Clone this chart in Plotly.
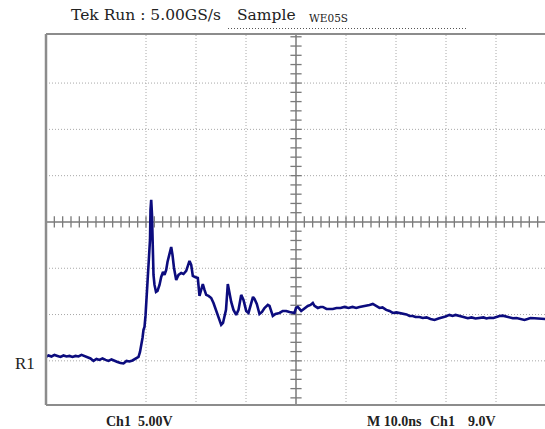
import plotly.graph_objects as go

# ---- data (time in ns from left edge, volts relative to screen centre)
time_ns = [0, 0.5, 1.1, 1.7, 2.3, 2.9, 3.5, 4.1, 4.7, 5.3, 5.9, 6.5, 7.1, 7.7, 8.3, 8.9, 9.5,
           10.1, 10.7, 11.3, 11.9, 12.5, 13.1, 13.7, 14.3, 14.9, 15.5, 16.1, 16.7, 17.3, 17.9,
           18.5, 18.8, 19.1, 19.3, 19.5, 19.7, 19.9, 20.1, 20.3, 20.6, 20.8, 20.9, 21.04, 21.2,
           21.3, 21.4, 21.5, 21.7, 22.0, 22.3, 22.7, 23.04, 23.4, 23.7, 24.04, 24.3, 24.7, 25.04,
           25.3, 25.6, 26.04, 26.5, 27.04, 27.5, 28.04, 28.4, 28.7, 29.04, 29.36, 29.8, 30.36,
           30.7, 31.0, 31.36, 31.7, 32.04, 32.5, 33.04, 33.5, 34.04, 34.5, 35.04, 35.4, 35.7,
           36.0, 36.36, 36.7, 37.04, 37.5, 38.04, 38.5, 39.04, 39.5, 40.04, 40.5, 41.0, 41.4,
           41.7, 42.16, 42.7, 43.2, 43.7, 44.36, 44.7, 45.36, 45.9, 46.7, 47.36, 48.04, 48.7,
           49.36, 49.7, 50.0, 50.36, 51.04, 51.7, 52.36, 52.9, 53.36, 53.7, 54.36, 54.9, 55.36,
           56.1, 56.7, 57.36, 58.1, 58.9, 59.7, 60.5, 61.3, 62.04, 62.7, 63.3, 64.04, 64.7,
           65.36, 65.9, 66.7, 67.3, 68.04, 68.7, 69.36, 70.1, 70.7, 71.36, 72.1, 72.7, 73.36,
           73.9, 74.7, 75.36, 76.1, 76.9, 77.7, 78.5, 79.36, 79.9, 80.7, 81.3, 81.9, 82.7, 83.5,
           84.36, 85.1, 85.9, 86.7, 87.5, 88.1, 88.7, 89.5, 90.1, 90.7, 91.36, 92.1, 92.7, 93.36,
           94.1, 94.9, 95.7, 96.3, 96.9, 97.7, 98.5, 99.36, 99.9]
volts = [-14.58, -14.42, -14.53, -14.36, -14.47, -14.58, -14.42, -14.53, -14.47, -14.58, -14.47,
         -14.53, -14.36, -14.47, -14.58, -14.74, -15.01, -14.80, -14.90, -14.74, -14.90, -15.01,
         -14.85, -15.01, -15.12, -15.23, -15.28, -15.01, -15.07, -14.96, -14.80, -14.58, -14.04,
         -13.28, -12.53, -11.66, -11.34, -10.15, -8.42, -7.34, -4.64, -1.94, 1.30, 2.38, 0.76,
         -1.40, -4.10, -5.72, -6.80, -7.56, -7.45, -6.80, -5.94, -5.40, -5.72, -5.18, -4.32,
         -3.56, -2.70, -3.56, -4.97, -6.26, -5.72, -5.51, -5.62, -5.29, -4.75, -4.21, -4.64,
         -5.83, -5.94, -6.05, -7.99, -7.34, -6.70, -7.34, -7.88, -7.99, -8.21, -8.75, -9.61,
         -10.37, -11.12, -10.91, -10.26, -9.50, -6.70, -7.67, -8.64, -9.50, -10.04, -9.50,
         -7.88, -8.42, -9.61, -9.83, -8.96, -8.10, -8.32, -8.86, -9.94, -9.72, -9.29, -8.96,
         -9.07, -10.15, -9.94, -9.83, -9.61, -9.61, -9.72, -9.83, -9.83, -9.29, -9.18, -9.61,
         -9.29, -9.07, -8.96, -8.75, -9.07, -9.29, -9.18, -9.18, -9.40, -9.40, -9.40, -9.29,
         -9.29, -9.18, -9.29, -9.18, -9.29, -9.18, -9.13, -9.07, -8.96, -8.86, -9.07, -9.29,
         -9.23, -9.50, -9.61, -9.83, -9.77, -9.83, -9.94, -9.99, -10.15, -10.15, -10.26, -10.26,
         -10.37, -10.31, -10.48, -10.58, -10.42, -10.34, -10.21, -10.04, -10.15, -10.04, -10.12,
         -10.26, -10.40, -10.31, -10.42, -10.40, -10.31, -10.42, -10.34, -10.37, -10.26, -10.15,
         -10.12, -10.21, -10.31, -10.40, -10.37, -10.48, -10.58, -10.48, -10.37, -10.40, -10.42,
         -10.48, -10.48]

grid_times = [20, 30, 40, 60, 70, 80, 90]
grid_volts = [-15, -10, -5, 5, 10, 15]
center_time = 50
center_volt = 0
x_range = [0, 99.8]
y_range = [-19.77, 20.3]

header_main = "Tek Run : 5.00GS/s"
header_mode = "Sample"
header_tag = "WE05S"
ref_label = "R1"
footer_items = [("Ch1", 104), ("5.00V", 135.5), ("M 10.0ns", 365), ("Ch1", 427.5), ("9.0V", 466)]

W, H = 545, 429
L, R, T, B = 46, 0, 34, 24
PW, PH = W - L - R, H - T - B

def px(x):
    return (x - L) / PW

def py(y):
    return (H - B - y) / PH

fig = go.Figure()

GRID = "#a8a8a8"
AX = "#7a7a7a"
DOT = "1px,2px"
shapes = []
for g in grid_times:
    shapes.append(dict(type="line", xref="x", yref="paper", x0=g, x1=g, y0=0, y1=1,
                       line=dict(color=GRID, width=1, dash=DOT), layer="below"))
for g in grid_volts:
    shapes.append(dict(type="line", xref="paper", yref="y", x0=0, x1=1, y0=g, y1=g,
                       line=dict(color=GRID, width=1, dash=DOT), layer="below"))
# centre crosshair
shapes.append(dict(type="line", xref="x", yref="paper", x0=center_time, x1=center_time, y0=0, y1=1,
                   line=dict(color=AX, width=1.5), layer="below"))
shapes.append(dict(type="line", xref="paper", yref="y", x0=0, x1=1, y0=center_volt, y1=center_volt,
                   line=dict(color=AX, width=1.5), layer="below"))
# screen border (left, top, bottom)
BORDER = "#8c8c8c"
shapes.append(dict(type="line", xref="paper", yref="paper", x0=0, x1=0, y0=0, y1=1,
                   line=dict(color=BORDER, width=2.5)))
shapes.append(dict(type="line", xref="paper", yref="paper", x0=0, x1=1.01, y0=1, y1=1,
                   line=dict(color=BORDER, width=2)))
shapes.append(dict(type="line", xref="paper", yref="paper", x0=0, x1=1.01, y0=0, y1=0,
                   line=dict(color=BORDER, width=2)))
# dotted line under header
shapes.append(dict(type="line", xref="paper", yref="paper", x0=px(228), x1=px(467), y0=py(28.5), y1=py(28.5),
                   line=dict(color="#555555", width=1, dash="1px,2px")))

# minor ticks on the centre axes
step_t = 10 / 6
tick_t = []
k = 1
while center_time - k * step_t > x_range[0]:
    tick_t.append(center_time - k * step_t)
    k += 1
k = 1
while center_time + k * step_t < x_range[1]:
    tick_t.append(center_time + k * step_t)
    k += 1
tick_v = [v for v in range(-19, 21) if v != 0]

fig.add_trace(go.Scatter(x=tick_t, y=[center_volt] * len(tick_t), mode="markers",
                         marker=dict(symbol="line-ns", size=8, line=dict(width=1.3, color=AX)),
                         hoverinfo="skip", showlegend=False))
fig.add_trace(go.Scatter(x=[center_time] * len(tick_v), y=tick_v, mode="markers",
                         marker=dict(symbol="line-ew", size=8, line=dict(width=1.3, color=AX)),
                         hoverinfo="skip", showlegend=False))

fig.add_trace(go.Scatter(x=time_ns, y=volts, mode="lines",
                         line=dict(color="#0c0c7e", width=2.6), showlegend=False))

serif = "DejaVu Serif, Liberation Serif, serif"
times = "Liberation Serif, serif"
ann = []
ann.append(dict(text=header_main, x=px(69), y=py(15.5), xref="paper", yref="paper", xanchor="left",
                yanchor="middle", showarrow=False, font=dict(family=serif, size=15.5, color="#222")))
ann.append(dict(text=header_mode, x=px(235), y=py(15.5), xref="paper", yref="paper", xanchor="left",
                yanchor="middle", showarrow=False, font=dict(family=serif, size=15.5, color="#222")))
ann.append(dict(text=header_tag, x=px(306.5), y=py(17.5), xref="paper", yref="paper", xanchor="left",
                yanchor="middle", showarrow=False, font=dict(family=serif, size=10.5, color="#222")))
for label, xl in footer_items:
    ann.append(dict(text="<b>" + label + "</b>", x=px(xl), y=py(421), xref="paper", yref="paper",
                    xanchor="left", yanchor="middle", showarrow=False,
                    font=dict(family=times, size=14, color="#222")))
ann.append(dict(text=ref_label, x=px(13), y=py(363), xref="paper", yref="paper", xanchor="left",
                yanchor="middle", showarrow=False,
                font=dict(family=times, size=17, color="#222")))

fig.update_layout(
    width=W, height=H, margin=dict(l=L, r=R, t=T, b=B),
    paper_bgcolor="white", plot_bgcolor="white",
    xaxis=dict(range=x_range, showgrid=False, zeroline=False, showticklabels=False, ticks="",
               showline=False, fixedrange=True),
    yaxis=dict(range=y_range, showgrid=False, zeroline=False, showticklabels=False, ticks="",
               showline=False, fixedrange=True),
    shapes=shapes, annotations=ann,
)

fig.write_html("out.html", config={"displayModeBar": False},
               post_script="document.body.style.margin='0';document.body.style.padding='0';")
